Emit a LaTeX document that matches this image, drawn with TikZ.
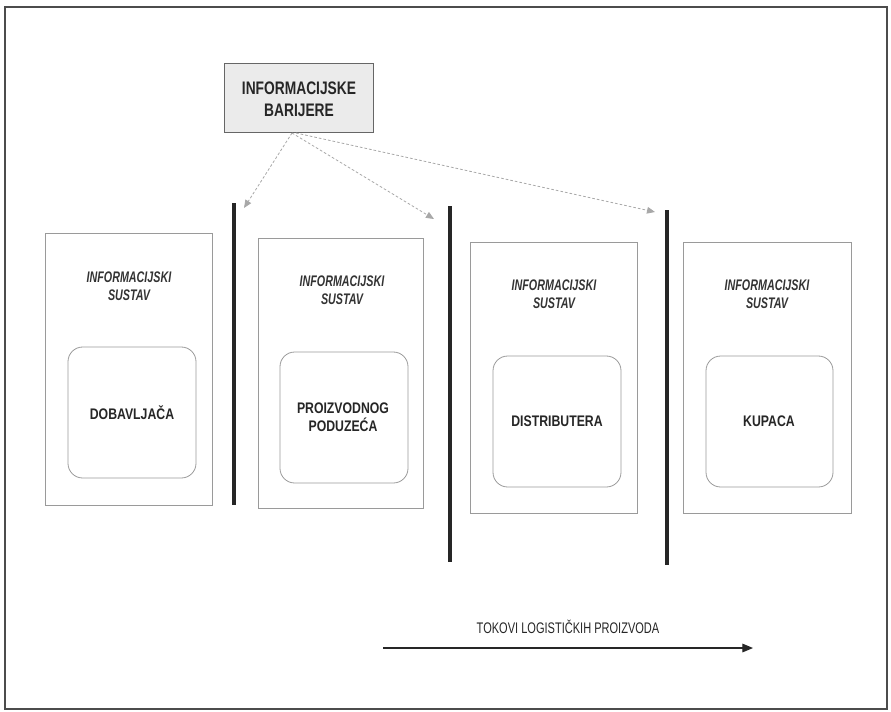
\documentclass[tikz,border=0pt]{standalone}
\usepackage{fontspec}
\setmainfont{Liberation Sans}
\newfontfamily\narsys[FakeStretch=0.70]{Liberation Sans}
\newfontfamily\narunit[FakeStretch=0.80]{Liberation Sans}
\newfontfamily\nartop[FakeStretch=0.76]{Liberation Sans}
\newfontfamily\narflow[FakeStretch=0.72]{Liberation Sans}
\usetikzlibrary{arrows.meta,fit}
\definecolor{boxgray}{HTML}{9A9A9A}
\definecolor{dashgray}{HTML}{A8A8A8}
\definecolor{topfill}{HTML}{EBEBEB}
\begin{document}
\begin{tikzpicture}[x=0.75pt,y=-0.75pt,
  outerbox/.style={draw=boxgray,line width=0.6pt,inner sep=0pt},
  innerbox/.style={draw=boxgray,line width=0.6pt,inner sep=0pt,rounded corners=11pt},
  systxt/.style={font=\narsys\bfseries\itshape\fontsize{11.5}{13.5}\selectfont,align=center,text=black!80},
  unittxt/.style={font=\narunit\bfseries\fontsize{11.5}{13.5}\selectfont,align=center,text=black!85},
  bar/.style={line width=3pt,black!85},
  barrier/.style={dashgray,dashed,dash pattern=on 2pt off 1.5pt,line width=0.6pt,-{Triangle[length=6pt,width=5pt,fill=dashgray]}}]
\useasboundingbox (0,0) rectangle (891,711);
\draw[line width=0.8pt,black!70] (5,7) rectangle (887,709);
% top box
\node[fit={(224,63)(373,132)},draw=black!60,fill=topfill,line width=0.6pt,inner sep=0pt] (top) {};
\node[font=\nartop\bfseries\fontsize{13.6}{16.5}\selectfont,align=center,text=black!85] (toptxt) at (299,99) {INFORMACIJSKE\\BARIJERE};
% outer boxes
\node[outerbox,fit={(45,233)(212,505)}] (b1) {};
\node[outerbox,fit={(258,238)(423,508)}] (b2) {};
\node[outerbox,fit={(470,242)(637,513)}] (b3) {};
\node[outerbox,fit={(683,242)(851,513)}] (b4) {};
% system texts
\node[systxt] (s1) at (129,286) {INFORMACIJSKI\\SUSTAV};
\node[systxt] (s2) at (342,290) {INFORMACIJSKI\\SUSTAV};
\node[systxt] (s3) at (554,294) {INFORMACIJSKI\\SUSTAV};
\node[systxt] (s4) at (767,294) {INFORMACIJSKI\\SUSTAV};
% inner boxes
\node[innerbox,fit={(68,347)(196,478)}] (i1) {};
\node[innerbox,fit={(280,352)(408,483)}] (i2) {};
\node[innerbox,fit={(493,356)(621,487)}] (i3) {};
\node[innerbox,fit={(706,356)(833,487)}] (i4) {};
\node[unittxt] (u1) at (132,413) {DOBAVLJAČA};
\node[unittxt] (u2) at (343,417) {PROIZVODNOG\\PODUZEĆA};
\node[unittxt] (u3) at (557,421) {DISTRIBUTERA};
\node[unittxt] (u4) at (769,421) {KUPACA};
% bars
\coordinate (bar1t) at (234,203); \coordinate (bar1b) at (234,505);
\coordinate (bar2t) at (450,206); \coordinate (bar2b) at (450,562);
\coordinate (bar3t) at (667,210); \coordinate (bar3b) at (667,565);
\draw[bar] (bar1t) -- (bar1b);
\draw[bar] (bar2t) -- (bar2b);
\draw[bar] (bar3t) -- (bar3b);
% barrier arrows
\coordinate (o1) at (292,133);
\coordinate (o2) at (296,133);
\coordinate (a1) at (244,208);
\coordinate (a2) at (434,219);
\coordinate (a3) at (655,212);
\draw[barrier] (o1) -- (a1);
\draw[barrier] (o1) -- (a2);
\draw[barrier] (o2) -- (a3);
% flow arrow
\node[font=\narflow\fontsize{11.5}{13.5}\selectfont,text=black!85] (flow) at (568,627) {TOKOVI LOGISTIČKIH PROIZVODA};
\coordinate (f1) at (383,648);
\coordinate (f2) at (753,648);
\draw[line width=0.8pt,black!85,-{Triangle[length=8pt,width=6.5pt]}] (f1) -- (f2);
\end{tikzpicture}
\end{document}
